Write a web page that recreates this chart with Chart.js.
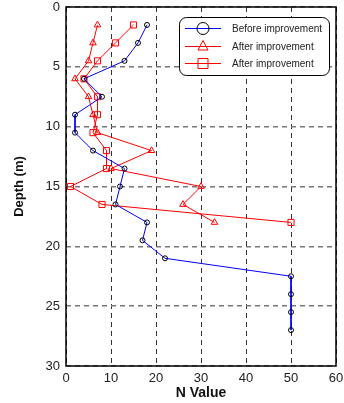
<!DOCTYPE html>
<html>
<head>
<meta charset="utf-8">
<script src="https://cdn.jsdelivr.net/npm/chart.js@4.4.1/dist/chart.umd.min.js"></script>
<style>
  html, body { margin: 0; padding: 0; background: #fff; }
  #wrap { width: 344px; height: 403px; position: relative; }
</style>
</head>
<body>
<div id="wrap"><canvas id="c" width="344" height="403"></canvas></div>
<script>
// ---- data ----
const seriesLabels = ["Before improvement", "After improvement", "After improvement"];
const depthBefore = [1.5, 3, 4.5, 6, 7.5, 9, 10.5, 12, 13.5, 15, 16.5, 18, 19.5, 21, 22.5, 24, 25.5, 27];
const nBefore     = [18, 16, 13, 4, 8, 2, 2, 6, 13, 12, 11, 18, 17, 22, 50, 50, 50, 50];
const depthAfter  = [1.5, 3, 4.5, 6, 7.5, 9, 10.5, 12, 13.5, 15, 16.5, 18];
const nAfterTri   = [7, 6, 5, 2, 5, 6, 7, 19, 10, 30, 26, 33];
const nAfterSq    = [15, 11, 7, 4, 7, 7, 6, 9, 9, 1, 8, 50];
const xTicks = [0, 10, 20, 30, 40, 50, 60];
const yTicks = [0, 5, 10, 15, 20, 25, 30];

const FONT = '"Liberation Sans", Arial, Helvetica, sans-serif';
const toPts = (xs, ys) => xs.map((v, i) => ({ x: v, y: ys[i] }));

const legendPlugin = {
  id: 'boxLegend',
  afterDraw(chart) {
    const ctx = chart.ctx;
    const ca = chart.chartArea;
    // plot frame
    ctx.save();
    ctx.strokeStyle = '#000';
    ctx.lineWidth = 1.5;
    ctx.setLineDash([]);
    ctx.strokeRect(ca.left, ca.top, ca.right - ca.left, ca.bottom - ca.top);
    ctx.restore();

    const w = 150, h = 58;
    const x0 = ca.right - 7 - w, y0 = ca.top + 10;
    ctx.save();
    ctx.beginPath();
    ctx.roundRect(x0 + 0.5, y0 + 0.5, w, h, 7);
    ctx.fillStyle = '#fff';
    ctx.fill();
    ctx.strokeStyle = '#000';
    ctx.lineWidth = 1;
    ctx.stroke();
    const rows = [11.5, 29.5, 46.5];
    chart.data.datasets.forEach((ds, i) => {
      const yy = y0 + rows[i];
      ctx.strokeStyle = ds.borderColor;
      ctx.lineWidth = 1;
      ctx.beginPath();
      ctx.moveTo(x0 + 6, yy);
      ctx.lineTo(x0 + 42, yy);
      ctx.stroke();
      ctx.strokeStyle = ds.pointBorderColor;
      const cx = x0 + 24;
      ctx.beginPath();
      if (ds.pointStyle === 'circle') {
        ctx.arc(cx, yy, 6, 0, Math.PI * 2);
      } else if (ds.pointStyle === 'triangle') {
        ctx.moveTo(cx, yy - 6);
        ctx.lineTo(cx + 5, yy + 3.5);
        ctx.lineTo(cx - 5, yy + 3.5);
        ctx.closePath();
      } else {
        ctx.rect(cx - 5, yy - 5, 10, 10);
      }
      ctx.stroke();
      ctx.fillStyle = '#222';
      ctx.font = '10px ' + FONT;
      ctx.textAlign = 'left';
      ctx.textBaseline = 'middle';
      ctx.fillText(ds.label, x0 + 53, yy + 0.5);
    });
    ctx.restore();
  }
};

new Chart(document.getElementById('c'), {
  type: 'scatter',
  data: {
    datasets: [
      {
        label: seriesLabels[0],
        data: toPts(nBefore, depthBefore),
        showLine: true,
        borderColor: '#0000ff',
        borderWidth: 1,
        pointStyle: 'circle',
        pointRadius: 2.5,
        pointBorderWidth: 1,
        pointBorderColor: '#000',
        pointBackgroundColor: 'rgba(0,0,0,0)'
      },
      {
        label: seriesLabels[1],
        data: toPts(nAfterTri, depthAfter),
        showLine: true,
        borderColor: '#ff0000',
        borderWidth: 1,
        pointStyle: 'triangle',
        pointRadius: 3.8,
        pointBorderWidth: 1,
        pointBorderColor: '#ff0000',
        pointBackgroundColor: 'rgba(0,0,0,0)'
      },
      {
        label: seriesLabels[2],
        data: toPts(nAfterSq, depthAfter),
        showLine: true,
        borderColor: '#ff0000',
        borderWidth: 1,
        pointStyle: 'rect',
        pointRadius: 4.3,
        pointBorderWidth: 1,
        pointBorderColor: '#ff0000',
        pointBackgroundColor: 'rgba(0,0,0,0)'
      }
    ]
  },
  options: {
    responsive: false,
    animation: false,
    devicePixelRatio: 1,
    layout: { padding: { top: 7, right: 8, bottom: 0, left: 0 } },
    plugins: { legend: { display: false }, tooltip: { enabled: false } },
    scales: {
      x: {
        type: 'linear',
        min: 0, max: 60,
        afterBuildTicks: (s) => { s.ticks = xTicks.map(v => ({ value: v })); },
        afterFit: (s) => { s.height = 37; s.paddingLeft = 0; s.paddingRight = 0; s.paddingTop = 0; s.paddingBottom = 0; },
        ticks: { padding: 5, color: '#222', font: { family: FONT, size: 13 }, maxRotation: 0 },
        grid: { color: '#333', lineWidth: 1, drawTicks: false },
        border: { display: false, dash: [5, 4] },
        title: { display: true, text: 'N Value', color: '#111', padding: { top: 0, bottom: 1 }, font: { family: FONT, size: 14, weight: 'bold' } }
      },
      y: {
        type: 'linear',
        reverse: true,
        min: 0, max: 30,
        afterBuildTicks: (s) => { s.ticks = yTicks.map(v => ({ value: v })); },
        afterFit: (s) => { s.width = 66; s.paddingLeft = 0; s.paddingRight = 0; s.paddingTop = 0; s.paddingBottom = 0; },
        ticks: { padding: 6, color: '#222', font: { family: FONT, size: 13 } },
        grid: { color: '#777', lineWidth: 1.5, drawTicks: false },
        border: { display: false, dash: [5, 4] },
        title: { display: true, text: 'Depth (m)', color: '#111', padding: { top: 12, bottom: 0 }, font: { family: FONT, size: 13, weight: 'bold' } }
      }
    }
  },
  plugins: [legendPlugin]
});
</script>
</body>
</html>
